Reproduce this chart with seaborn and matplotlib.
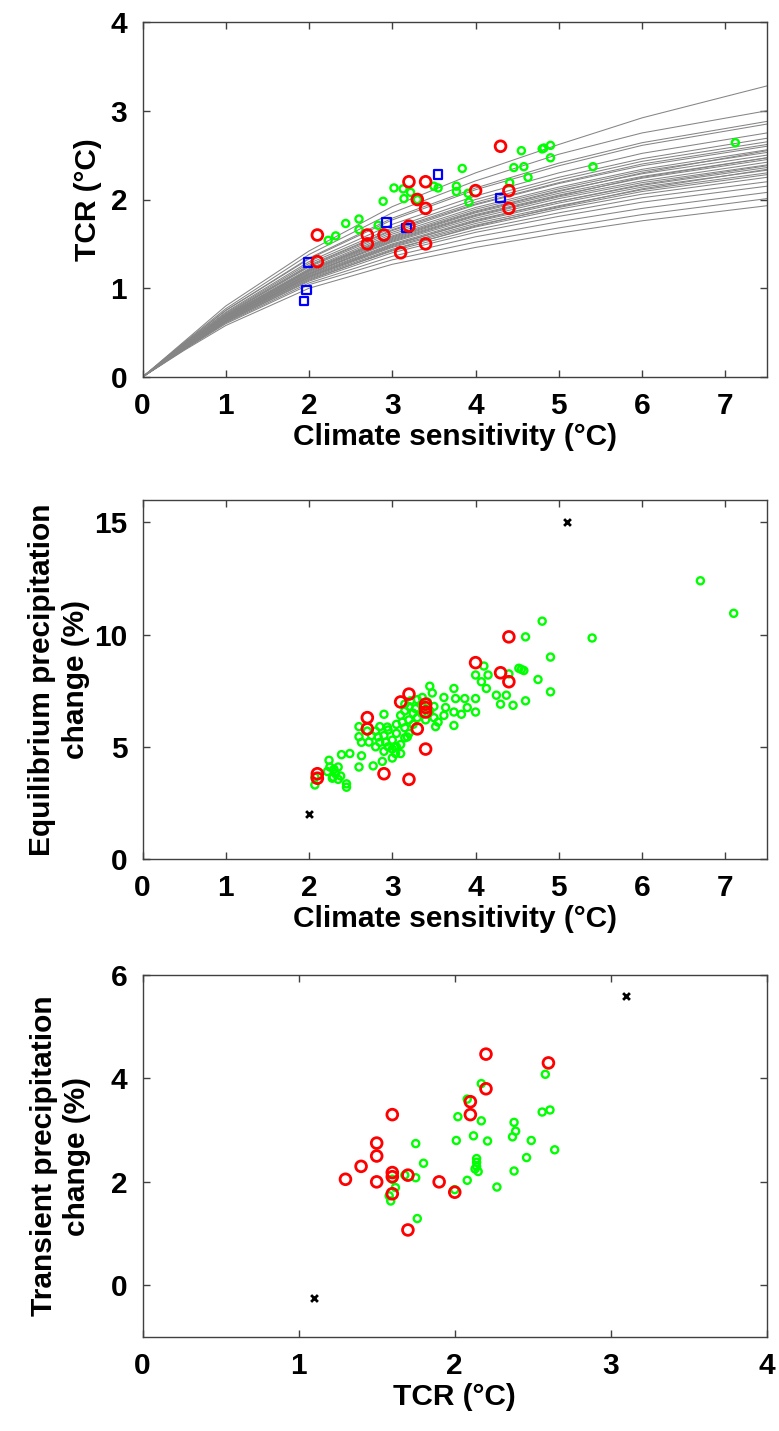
import matplotlib
matplotlib.use("Agg")
import matplotlib.pyplot as plt
import numpy as np
import pandas as pd
import seaborn as sns

# ---- panel 1: TCR vs climate sensitivity ----
CURVE_ECS = [0, 0.5, 1, 2, 3, 4, 5, 6, 7.5]
CURVE_TCR = [
    [0, 0.30, 0.58, 1.00, 1.27, 1.46, 1.62, 1.76, 1.93],
    [0, 0.31, 0.60, 1.04, 1.32, 1.52, 1.68, 1.83, 2.01],
    [0, 0.31, 0.61, 1.06, 1.36, 1.58, 1.75, 1.90, 2.08],
    [0, 0.32, 0.62, 1.08, 1.40, 1.63, 1.81, 1.97, 2.15],
    [0, 0.32, 0.63, 1.10, 1.42, 1.66, 1.85, 2.02, 2.20],
    [0, 0.32, 0.63, 1.11, 1.44, 1.69, 1.89, 2.06, 2.25],
    [0, 0.33, 0.64, 1.12, 1.46, 1.71, 1.91, 2.09, 2.28],
    [0, 0.33, 0.64, 1.13, 1.47, 1.73, 1.93, 2.11, 2.30],
    [0, 0.33, 0.65, 1.14, 1.49, 1.75, 1.96, 2.14, 2.33],
    [0, 0.33, 0.65, 1.15, 1.50, 1.77, 1.98, 2.16, 2.36],
    [0, 0.34, 0.66, 1.16, 1.52, 1.79, 2.01, 2.19, 2.39],
    [0, 0.34, 0.66, 1.17, 1.53, 1.81, 2.03, 2.21, 2.42],
    [0, 0.34, 0.67, 1.18, 1.55, 1.83, 2.05, 2.24, 2.45],
    [0, 0.34, 0.67, 1.19, 1.56, 1.85, 2.07, 2.26, 2.47],
    [0, 0.35, 0.68, 1.20, 1.58, 1.87, 2.10, 2.29, 2.50],
    [0, 0.35, 0.68, 1.21, 1.59, 1.89, 2.12, 2.32, 2.53],
    [0, 0.35, 0.69, 1.22, 1.61, 1.91, 2.14, 2.34, 2.56],
    [0, 0.36, 0.70, 1.24, 1.63, 1.94, 2.18, 2.38, 2.60],
    [0, 0.36, 0.71, 1.26, 1.66, 1.97, 2.22, 2.43, 2.65],
    [0, 0.37, 0.72, 1.28, 1.68, 2.00, 2.25, 2.46, 2.69],
    [0, 0.37, 0.73, 1.30, 1.72, 2.04, 2.30, 2.52, 2.75],
    [0, 0.38, 0.75, 1.33, 1.77, 2.11, 2.38, 2.61, 2.85],
    [0, 0.38, 0.75, 1.34, 1.79, 2.13, 2.41, 2.64, 2.88],
    [0, 0.39, 0.77, 1.38, 1.85, 2.21, 2.51, 2.75, 3.00],
    [0, 0.40, 0.80, 1.42, 1.92, 2.30, 2.62, 2.92, 3.28],
    [0, 0.33, 0.65, 1.13, 1.48, 1.76, 1.98, 2.17, 2.38],
    [0, 0.34, 0.67, 1.16, 1.54, 1.82, 2.04, 2.25, 2.47],
    [0, 0.36, 0.69, 1.20, 1.57, 1.86, 2.09, 2.30, 2.55],
    [0, 0.32, 0.62, 1.09, 1.43, 1.70, 1.92, 2.12, 2.34],
    [0, 0.35, 0.70, 1.25, 1.65, 1.95, 2.19, 2.40, 2.62],
]

p1_green_ecs = [4.55, 4.80, 4.90, 4.90, 4.46, 4.58, 4.63, 4.41, 3.84, 3.77, 3.77, 3.91,
                3.92, 3.55, 3.50, 3.30, 3.02, 3.13, 3.14, 3.22, 2.89, 2.60, 2.60, 2.44,
                2.32, 2.23, 2.83, 7.12, 5.41, 4.82]
p1_green_tcr = [2.55, 2.57, 2.61, 2.47, 2.36, 2.37, 2.25, 2.19, 2.35, 2.15, 2.09, 2.07,
                1.97, 2.13, 2.15, 2.00, 2.13, 2.12, 2.01, 2.08, 1.98, 1.78, 1.66, 1.73,
                1.59, 1.54, 1.71, 2.64, 2.37, 2.58]
p1_blue_ecs = [3.55, 4.30, 2.93, 3.17, 1.99, 1.97, 1.94]
p1_blue_tcr = [2.28, 2.02, 1.74, 1.68, 1.29, 0.98, 0.86]
p1_red_ecs = [4.3, 3.2, 3.4, 3.3, 3.4, 4.0, 4.4, 4.4, 3.2, 2.9, 2.7, 2.7, 3.4, 3.1, 2.1, 2.1]
p1_red_tcr = [2.6, 2.2, 2.2, 2.0, 1.9, 2.1, 2.1, 1.9, 1.7, 1.6, 1.6, 1.5, 1.5, 1.4, 1.6, 1.3]

# ---- panel 2: equilibrium precipitation change vs climate sensitivity ----
p2_green_ecs = [6.7, 7.1, 4.8, 4.6, 5.4, 4.9, 4.55, 4.52, 4.58, 4.75, 4.9, 4.6, 4.45, 4.3,
                4.25, 4.37, 4.4, 4.1, 4.0, 4.15, 4.07, 4.13, 4.0, 4.0, 3.87, 3.9, 3.83,
                3.74, 3.76, 3.74, 3.74, 3.62, 3.64, 3.62, 3.52, 3.45, 3.48, 3.36,
                3.10, 3.15, 3.20, 3.25, 3.30, 3.35, 3.40, 3.45, 3.20, 3.15, 3.30, 3.25,
                3.50, 3.55, 3.35, 3.12, 3.28, 3.42, 3.50, 3.05, 3.22,
                2.9, 2.6, 2.6, 2.63, 2.72, 2.83, 2.94, 2.92, 3.04, 3.03, 3.18, 2.88,
                2.77, 2.6, 2.63, 2.49, 2.39, 2.24, 2.35, 2.29, 2.45, 2.45, 2.07, 2.07,
                2.75, 2.80, 2.85, 2.90, 2.95, 3.00, 3.05, 3.00, 2.90, 3.10, 3.15, 2.85,
                2.95, 3.05, 3.10, 2.80, 3.20, 2.70, 3.00, 3.15,
                2.22, 2.28, 2.32, 2.25, 2.35, 2.30, 2.38]
p2_green_pr = [12.4, 10.95, 10.6, 9.9, 9.85, 9.0, 8.45, 8.5, 8.4, 8.0, 7.45, 7.05, 6.85, 6.9,
               7.3, 7.3, 8.25, 8.6, 8.2, 8.2, 7.9, 7.6, 6.55, 7.15, 7.15, 6.75, 6.45,
               7.6, 7.15, 6.55, 5.95, 7.2, 6.75, 6.4, 5.9, 7.7, 7.4, 7.2,
               6.4, 6.6, 6.8, 6.5, 6.3, 6.9, 6.2, 6.6, 6.2, 6.9, 7.1, 6.0,
               6.3, 6.1, 6.5, 6.1, 6.7, 7.0, 6.8, 6.0, 7.05,
               6.45, 5.9, 5.45, 5.2, 5.21, 5.44, 5.88, 5.21, 4.7, 4.99, 5.44, 4.35,
               4.15, 4.1, 4.6, 4.7, 4.65, 4.4, 4.1, 3.65, 3.35, 3.2, 3.3, 3.65,
               5.5, 5.7, 5.2, 5.5, 5.0, 5.3, 5.6, 4.9, 4.8, 5.1, 5.4, 5.9,
               5.75, 5.0, 4.7, 5.0, 5.6, 5.7, 4.5, 5.85,
               3.9, 3.6, 3.8, 4.1, 3.55, 4.0, 3.7]
p2_red_ecs = [4.4, 4.0, 4.3, 4.4, 3.2, 3.1, 3.4, 3.4, 3.4, 2.7, 2.7, 3.3, 3.4, 2.9, 3.2, 2.1, 2.1]
p2_red_pr = [9.9, 8.75, 8.3, 7.9, 7.35, 7.0, 6.9, 6.75, 6.55, 6.3, 5.8, 5.8, 4.9, 3.8, 3.55, 3.8, 3.6]
p2_black_ecs = [2.0, 5.1]
p2_black_pr = [2.0, 15.0]

# ---- panel 3: transient precipitation change vs TCR ----
p3_green_tcr = [2.58, 2.17, 2.08, 2.02, 2.17, 2.56, 2.61, 2.38, 2.39, 2.37, 2.49, 2.64,
                2.46, 2.38, 2.27, 2.21, 2.12, 2.01, 2.14, 2.14, 2.14, 2.13, 2.15, 2.08,
                2.00, 1.75, 1.80, 1.75, 1.68, 1.62, 1.58, 1.59, 1.76, 1.60]
p3_green_pr = [4.08, 3.90, 3.60, 3.26, 3.18, 3.35, 3.39, 3.15, 2.98, 2.87, 2.80, 2.62,
               2.47, 2.21, 1.90, 2.79, 2.89, 2.80, 2.45, 2.30, 2.38, 2.25, 2.20, 2.03,
               1.85, 2.74, 2.36, 2.08, 2.13, 1.89, 1.73, 1.63, 1.29, 2.05]
p3_red_tcr = [2.2, 2.6, 2.2, 2.1, 2.1, 1.6, 1.5, 1.5, 1.4, 1.3, 1.5, 1.6, 1.6, 1.7, 1.9, 2.0, 1.6, 1.7]
p3_red_pr = [4.47, 4.3, 3.8, 3.55, 3.3, 3.3, 2.75, 2.5, 2.3, 2.05, 2.0, 2.18, 2.1, 2.13, 2.0, 1.8, 1.77, 1.07]
p3_black_tcr = [1.1, 3.1]
p3_black_pr = [-0.25, 5.6]

sns.set_theme(style="ticks")
plt.rcParams["font.family"] = ["Liberation Sans", "DejaVu Sans"]
plt.rcParams["font.weight"] = "bold"
plt.rcParams["axes.labelweight"] = "bold"
plt.rcParams["text.color"] = "black"
plt.rcParams["axes.labelcolor"] = "black"

FS = 21.5
W, H = 779, 1431
fig = plt.figure(figsize=(W / 100, H / 100), dpi=100)


def px_axes(left, top, right, bottom):
    return fig.add_axes([left / W, 1 - bottom / H, (right - left) / W, (bottom - top) / H])


def style(ax, xlim, ylim, xticks, yticks):
    ax.set_xlim(xlim)
    ax.set_ylim(ylim)
    ax.set_xticks(xticks)
    ax.set_yticks(yticks)
    ax.tick_params(direction="in", top=True, right=True, length=5, width=1,
                   color="#404040", labelcolor="black", labelsize=FS)
    ax.tick_params(axis="x", pad=11)
    ax.tick_params(axis="y", pad=11)
    for s in ax.spines.values():
        s.set_visible(True)
        s.set_color("#404040")
        s.set_linewidth(1.0)


def rings(ax, x, y, color, s, lw, marker="o"):
    sns.scatterplot(x=x, y=y, ax=ax, marker=marker, s=s, facecolor="none",
                    edgecolor=color, linewidth=lw, zorder=3)


# panel 1
ax1 = px_axes(142.5, 22, 767, 377)
curves = pd.DataFrame(
    [(i, e, t) for i, row in enumerate(CURVE_TCR) for e, t in zip(CURVE_ECS, row)],
    columns=["curve", "ecs", "tcr"],
)
sns.lineplot(data=curves, x="ecs", y="tcr", units="curve", estimator=None,
             color="#858585", linewidth=0.75, ax=ax1, legend=False)
rings(ax1, p1_green_ecs, p1_green_tcr, "#00ff00", 26, 1.7)
rings(ax1, p1_blue_ecs, p1_blue_tcr, "#0000ff", 36, 1.6, marker="s")
rings(ax1, p1_red_ecs, p1_red_tcr, "#ff0000", 60, 2.0)
style(ax1, (0, 7.5), (0, 4), range(0, 8), range(0, 5))
ax1.set_xlabel("Climate sensitivity (°C)", fontsize=FS, labelpad=2)
ax1.set_ylabel("TCR (°C)", fontsize=FS, labelpad=6)

# panel 2
ax2 = px_axes(142.5, 500, 767, 859)
rings(ax2, p2_green_ecs, p2_green_pr, "#00ff00", 26, 1.7)
rings(ax2, p2_red_ecs, p2_red_pr, "#ff0000", 60, 2.0)
sns.scatterplot(x=p2_black_ecs, y=p2_black_pr, ax=ax2, marker="x", s=24,
                color="black", linewidth=2.0, zorder=4)
style(ax2, (0, 7.5), (0, 16), range(0, 8), [0, 5, 10, 15])
ax2.set_xlabel("Climate sensitivity (°C)", fontsize=FS, labelpad=2)
ax2.set_ylabel("Equilibrium precipitation\nchange (%)", fontsize=FS,
               linespacing=1.25, labelpad=3)

# panel 3
ax3 = px_axes(142.5, 975, 767, 1337)
rings(ax3, p3_green_tcr, p3_green_pr, "#00ff00", 26, 1.7)
rings(ax3, p3_red_tcr, p3_red_pr, "#ff0000", 60, 2.0)
sns.scatterplot(x=p3_black_tcr, y=p3_black_pr, ax=ax3, marker="x", s=24,
                color="black", linewidth=2.0, zorder=4)
style(ax3, (0, 4), (-1, 6), range(0, 5), [0, 2, 4, 6])
ax3.set_xlabel("TCR (°C)", fontsize=FS, labelpad=2)
ax3.set_ylabel("Transient precipitation\nchange (%)", fontsize=FS,
               linespacing=1.25, labelpad=14)

fig.savefig("out.png", dpi=100)
